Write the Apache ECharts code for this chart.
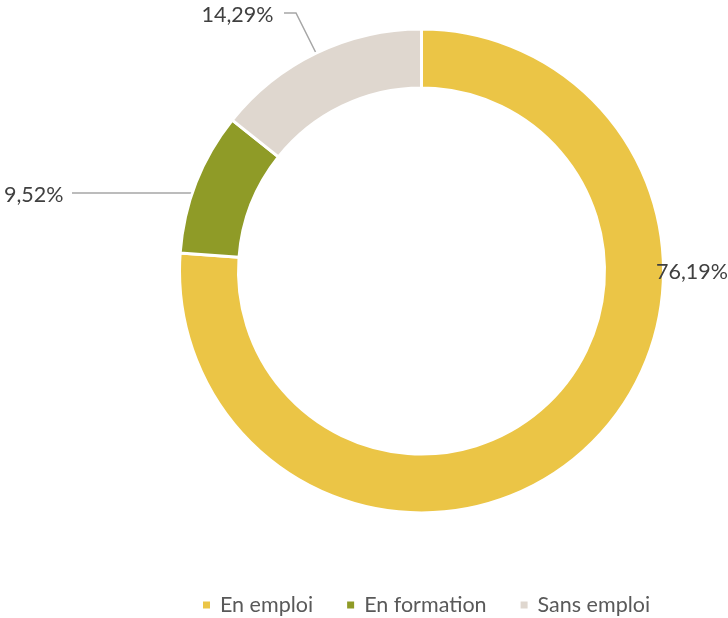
<!DOCTYPE html>
<html>
<head>
<meta charset="utf-8">
<script src="https://cdn.jsdelivr.net/npm/echarts@6/dist/echarts.min.js"></script>
<style>
html,body{margin:0;padding:0;background:#fff;}
#c{width:728px;height:618px;}
</style>
</head>
<body>
<div id="c"></div>
<script>
const categories = ['En emploi', 'En formation', 'Sans emploi'];
const values = [76.19, 9.52, 14.29];
const labels = ['76,19%', '9,52%', '14,29%'];
const colors = ['#EBC546', '#8F9B27', '#DFD7CF'];

const CX = 421.5, CY = 271;
// label placement offsets relative to pie centre (layout only)
const labelPlace = [
  { dx: 234.5, dy: 1, align: 'left', line: null },
  { dx: -358, dy: -76, align: 'right', line: [[-198.5, -78], [-349.5, -78], [-349.5, -78]] },
  { dx: -148, dy: -256, align: 'right', line: [[-92.5, -192], [-125.5, -258], [-137.5, -258]] }
];

const chart = echarts.init(document.getElementById('c'), null, { renderer: 'canvas' });
const font = 'Lato, "Open Sans", sans-serif';
chart.setOption({
  animation: false,
  color: colors,
  legend: {
    data: categories,
    left: 201,
    top: 594,
    padding: 0,
    icon: 'rect',
    itemWidth: 9,
    itemHeight: 9,
    itemGap: 32,
    textStyle: { fontFamily: font, fontSize: 21.5, color: '#595959', padding: [0, 0, 0, 4] }
  },
  series: [{
    type: 'pie',
    center: [CX, CY],
    radius: [183, 242],
    startAngle: 90,
    clockwise: true,
    avoidLabelOverlap: false,
    itemStyle: { borderColor: '#ffffff', borderWidth: 3 },
    label: {
      show: true,
      position: 'outside',
      fontFamily: font,
      fontSize: 21.5,
      color: '#404040',
      formatter: p => labels[p.dataIndex]
    },
    labelLine: { show: true, lineStyle: { color: '#A6A6A6', width: 1.5 } },
    emphasis: { disabled: true },
    data: categories.map((c, i) => ({ name: c, value: values[i],
      labelLine: { show: labelPlace[i].line !== null } })),
    labelLayout: function (p) {
      const lp = labelPlace[p.dataIndex];
      const res = {
        x: CX + lp.dx,
        y: CY + lp.dy,
        align: lp.align,
        verticalAlign: 'middle'
      };
      if (lp.line) {
        res.labelLinePoints = lp.line.map(pt => [CX + pt[0], CY + pt[1]]);
      }
      return res;
    }
  }]
});
</script>
</body>
</html>
